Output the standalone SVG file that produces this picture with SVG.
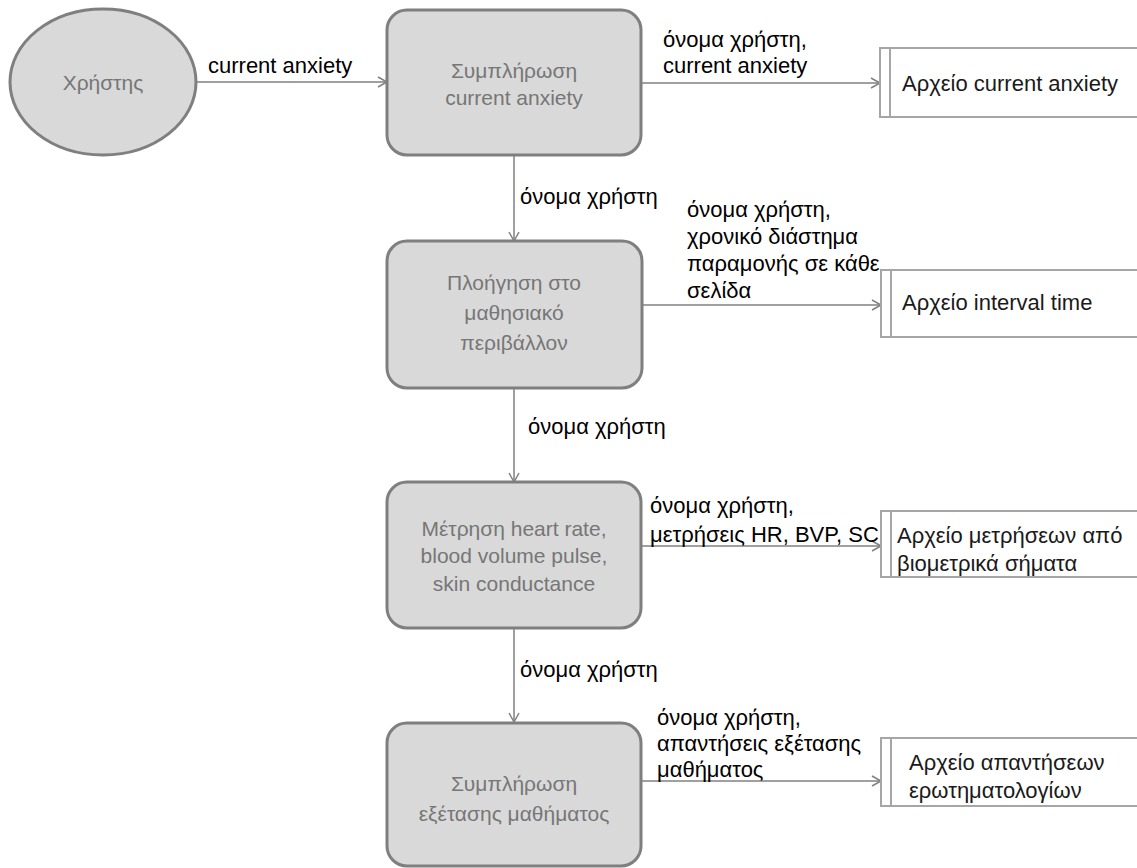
<svg xmlns="http://www.w3.org/2000/svg" width="1137" height="868" viewBox="0 0 1137 868">
<style>
.proc{fill:#d9d9d9;stroke:#7f7f7f;stroke-width:3}
.ent{fill:#d9d9d9;stroke:#7f7f7f;stroke-width:3}
.store{fill:#ffffff;stroke:#a6a6a6;stroke-width:2}
.ptxt{font-family:"Liberation Sans",Arial,sans-serif;font-size:21px;fill:#767676;text-anchor:middle}
.stxt{font-family:"Liberation Sans",Arial,sans-serif;font-size:22px;fill:#1a1a1a}
.lbl{font-family:"Liberation Sans",Arial,sans-serif;font-size:22px;fill:#000000}
.flow{stroke:#808080;stroke-width:1.5;fill:none;marker-end:url(#arr)}
</style>
<defs>
<marker id="arr" markerWidth="12" markerHeight="12" refX="10" refY="6" orient="auto" markerUnits="userSpaceOnUse">
<path d="M1,1 L10,6 L1,11" fill="none" stroke="#808080" stroke-width="1.5"/>
</marker>
</defs>
<rect width="1137" height="868" fill="#ffffff"/>
<g id="connectors">
<line class="flow" x1="197" y1="82" x2="387" y2="82"/>
<line class="flow" x1="641" y1="83" x2="880" y2="83"/>
<line class="flow" x1="514" y1="155" x2="514" y2="241"/>
<line class="flow" x1="642" y1="305" x2="881" y2="305"/>
<line class="flow" x1="514" y1="388" x2="514" y2="482"/>
<line class="flow" x1="641" y1="546" x2="881" y2="546"/>
<line class="flow" x1="514" y1="628" x2="514" y2="722"/>
<line class="flow" x1="641" y1="781" x2="881" y2="781"/>
<text class="lbl" x="208" y="73">current anxiety</text>
<text class="lbl" x="663" y="47">όνομα χρήστη,</text>
<text class="lbl" x="663" y="73">current anxiety</text>
<text class="lbl" x="520" y="204">όνομα χρήστη</text>
<text class="lbl" x="687" y="217">όνομα χρήστη,</text>
<text class="lbl" x="687" y="244">χρονικό διάστημα</text>
<text class="lbl" x="687" y="271">παραμονής σε κάθε</text>
<text class="lbl" x="687" y="298">σελίδα</text>
<text class="lbl" x="528" y="434">όνομα χρήστη</text>
<text class="lbl" x="650" y="513">όνομα χρήστη,</text>
<text class="lbl" x="650" y="542">μετρήσεις  HR, BVP, SC</text>
<text class="lbl" x="520" y="677">όνομα χρήστη</text>
<text class="lbl" x="657" y="725">όνομα χρήστη,</text>
<text class="lbl" x="657" y="751">απαντήσεις εξέτασης</text>
<text class="lbl" x="657" y="777">μαθήματος</text>
</g>
<g id="user">
<ellipse class="ent" cx="103" cy="82" rx="93" ry="73"/>
<text class="ptxt" x="103" y="90">Χρήστης</text>
</g>
<g id="p1">
<rect class="proc" x="387" y="10" width="254" height="145" rx="20"/>
<text class="ptxt" x="514" y="78">Συμπλήρωση</text>
<text class="ptxt" x="514" y="105">current anxiety</text>
</g>
<g id="p2">
<rect class="proc" x="387" y="241" width="255" height="147" rx="20"/>
<text class="ptxt" x="514" y="290">Πλοήγηση στο</text>
<text class="ptxt" x="514" y="320">μαθησιακό</text>
<text class="ptxt" x="514" y="350">περιβάλλον</text>
</g>
<g id="p3">
<rect class="proc" x="387" y="482" width="254" height="146" rx="20"/>
<text class="ptxt" x="514" y="536">Μέτρηση heart rate,</text>
<text class="ptxt" x="514" y="563">blood volume pulse,</text>
<text class="ptxt" x="514" y="591">skin conductance</text>
</g>
<g id="p4">
<rect class="proc" x="387" y="723" width="254" height="143" rx="20"/>
<text class="ptxt" x="514" y="791">Συμπλήρωση</text>
<text class="ptxt" x="514" y="821">εξέτασης μαθήματος</text>
</g>
<g id="s1">
<path class="store" d="M1140,48 H880 V117 H1140"/>
<line class="store" x1="890" y1="48" x2="890" y2="117"/>
<text class="stxt" x="902" y="91">Αρχείο current anxiety</text>
</g>
<g id="s2">
<path class="store" d="M1140,270 H881 V337 H1140"/>
<line class="store" x1="891" y1="270" x2="891" y2="337"/>
<text class="stxt" x="902" y="310">Αρχείο interval time</text>
</g>
<g id="s3">
<path class="store" d="M1140,511 H881 V577 H1140"/>
<line class="store" x1="891" y1="511" x2="891" y2="577"/>
<text class="stxt" x="897" y="543">Αρχείο μετρήσεων από</text>
<text class="stxt" x="897" y="571">βιομετρικά σήματα</text>
</g>
<g id="s4">
<path class="store" d="M1140,738 H881 V806 H1140"/>
<line class="store" x1="891" y1="738" x2="891" y2="806"/>
<text class="stxt" x="909" y="770">Αρχείο απαντήσεων</text>
<text class="stxt" x="909" y="798">ερωτηματολογίων</text>
</g>
</svg>
